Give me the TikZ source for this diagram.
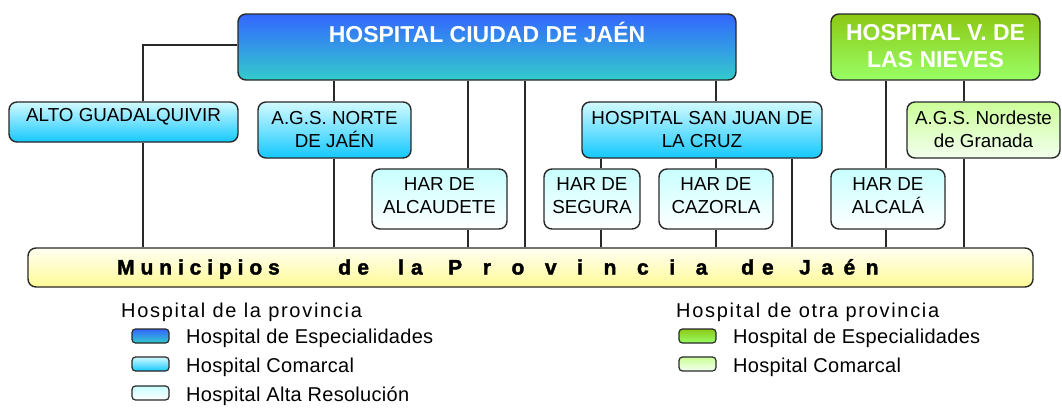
\documentclass[tikz,border=0pt]{standalone}
\usepackage{fontspec}
\setmainfont{Liberation Sans}
\usetikzlibrary{backgrounds}
\definecolor{espTop}{RGB}{51,102,255}
\definecolor{espBot}{RGB}{51,204,204}
\definecolor{comTop}{RGB}{210,250,255}
\definecolor{comBot}{RGB}{20,200,255}
\definecolor{harTop}{RGB}{200,255,255}
\definecolor{harBot}{RGB}{255,255,255}
\definecolor{gesTop}{RGB}{140,200,20}
\definecolor{gesBot}{RGB}{153,255,102}
\definecolor{gcoTop}{RGB}{204,255,153}
\definecolor{gcoBot}{RGB}{242,255,238}
\definecolor{munTop}{RGB}{255,255,242}
\definecolor{munBot}{RGB}{255,250,150}
\definecolor{edge}{RGB}{40,40,40}
\newcommand{\spw}[3]{\rlap{\hspace*{#1pt}\addfontfeature{LetterSpace=#2}#3}}
\begin{document}
\begin{tikzpicture}[x=1pt,y=-1pt,
  hbox/.style={draw=edge, line width=1.4pt, rounded corners=8pt, inner sep=0pt},
  esp/.style={hbox, top color=espTop, bottom color=espBot},
  com/.style={hbox, top color=comTop, bottom color=comBot},
  har/.style={hbox, top color=harTop, bottom color=harBot},
  ges/.style={hbox, top color=gesTop, bottom color=gesBot},
  gco/.style={hbox, top color=gcoTop, bottom color=gcoBot},
  mun/.style={hbox, top color=munTop, bottom color=munBot},
  swatch/.style={minimum width=37pt, minimum height=14pt, rounded corners=3.5pt, line width=1.2pt},
  big/.style={font=\fontsize{23}{27}\selectfont\bfseries, text=white, align=center, inner sep=0pt},
  lbl/.style={font=\fontsize{18.8}{23}\selectfont, align=center, inner sep=0pt},
  leg/.style={font=\fontsize{20}{22}\selectfont\addfontfeature{LetterSpace=1.5}, anchor=base west, inner sep=0pt},
  legtitle/.style={font=\fontsize{20}{22}\selectfont\addfontfeature{LetterSpace=8.5}, anchor=base west, inner sep=0pt},
  link/.style={draw=edge, line width=1.2pt},
]
\useasboundingbox (0,0) rectangle (1062,407);

% top-level hospitals
\node[esp, minimum width=498pt, minimum height=66pt] (ciudad) at (487,47) {};
\node[big] (ciudadT) at (487,32) {HOSPITAL CIUDAD DE JAÉN};
\node[ges, minimum width=209pt, minimum height=66pt] (nieves) at (935.5,47) {};
\node[big] (nievesT) at (935.5,46.5) {HOSPITAL V. DE\\LAS NIEVES};

% comarcal level
\node[com, minimum width=229pt, minimum height=40pt] (alto) at (123.5,122) {};
\node[lbl] (altoT) at (123.5,116.5) {ALTO GUADALQUIVIR};
\node[com, minimum width=153pt, minimum height=56pt] (norte) at (334.5,130) {};
\node[lbl] (norteT) at (334.5,129.5) {A.G.S. NORTE\\DE JAÉN};
\node[com, minimum width=240pt, minimum height=56pt] (sanjuan) at (702,130) {};
\node[lbl] (sanjuanT) at (702,129.5) {HOSPITAL SAN JUAN DE\\LA CRUZ};
\node[gco, minimum width=153pt, minimum height=56pt] (nordeste) at (983.5,130) {};
\node[lbl] (nordesteT) at (983.5,129.5) {A.G.S. Nordeste\\de Granada};

% HAR level
\node[har, minimum width=135pt, minimum height=60pt] (alcaudete) at (439.5,199) {};
\node[lbl] (alcaudeteT) at (439.5,196) {HAR DE\\ALCAUDETE};
\node[har, minimum width=96pt, minimum height=60pt] (segura) at (592,199) {};
\node[lbl] (seguraT) at (592,196) {HAR DE\\SEGURA};
\node[har, minimum width=114pt, minimum height=60pt] (cazorla) at (716,199) {};
\node[lbl] (cazorlaT) at (716,196) {HAR DE\\CAZORLA};
\node[har, minimum width=114pt, minimum height=60pt] (alcala) at (888,199) {};
\node[lbl] (alcalaT) at (888,196) {HAR DE\\ALCALÁ};

% municipios bar
\node[mun, minimum width=1005pt, minimum height=39pt] (mun) at (530.5,267.5) {};
\node[anchor=base west, inner sep=0pt, font=\fontsize{21}{23}\selectfont\bfseries\addfontfeature{FakeBold=1.8}] (munT) at (117,274.5)
 {\spw{0}{28}{Municipios}\spw{221}{30}{de}\spw{281}{33}{la}\spw{331}{98}{Provincia}\spw{624}{38}{de}\spw{682}{50}{Jaén}\hspace*{763pt}};

% connector columns
\coordinate (c143) at (143,0);
\coordinate (c334) at (334,0);
\coordinate (c468) at (468,0);
\coordinate (c525) at (525,0);
\coordinate (c601) at (601,0);
\coordinate (c716) at (716,0);
\coordinate (c792) at (792,0);
\coordinate (c886) at (886,0);
\coordinate (c964) at (964,0);
\coordinate (r45) at (0,45);

\begin{scope}[on background layer]
\draw[link] (ciudad.west |- r45) -| (alto.north -| c143);
\draw[link] (alto.south -| c143) -- (mun.north -| c143);
\draw[link] (ciudad.south -| c334) -- (norte.north -| c334);
\draw[link] (norte.south -| c334) -- (mun.north -| c334);
\draw[link] (ciudad.south -| c468) -- (alcaudete.north -| c468);
\draw[link] (alcaudete.south -| c468) -- (mun.north -| c468);
\draw[link] (ciudad.south -| c525) -- (mun.north -| c525);
\draw[link] (ciudad.south -| c716) -- (sanjuan.north -| c716);
\draw[link] (sanjuan.south -| c601) -- (segura.north -| c601);
\draw[link] (segura.south -| c601) -- (mun.north -| c601);
\draw[link] (sanjuan.south -| c716) -- (cazorla.north -| c716);
\draw[link] (cazorla.south -| c716) -- (mun.north -| c716);
\draw[link] (sanjuan.south -| c792) -- (mun.north -| c792);
\draw[link] (nieves.south -| c886) -- (alcala.north -| c886);
\draw[link] (alcala.south -| c886) -- (mun.north -| c886);
\draw[link] (nieves.south -| c964) -- (nordeste.north -| c964);
\draw[link] (nordeste.south -| c964) -- (mun.north -| c964);
\end{scope}

% legend
\node[legtitle] (legA) at (121,317) {Hospital de la provincia};
\node[esp, swatch] (s1) at (150.5,336) {};
\node[leg] (s1T) at (186,343) {Hospital de Especialidades};
\node[com, swatch] (s2) at (150.5,364) {};
\node[leg] (s2T) at (186,372) {Hospital Comarcal};
\node[har, swatch] (s3) at (150.5,393) {};
\node[leg] (s3T) at (186,401) {Hospital Alta Resolución};
\node[legtitle] (legB) at (676,317) {Hospital de otra provincia};
\node[ges, swatch] (s4) at (697.5,336) {};
\node[leg] (s4T) at (733,343) {Hospital de Especialidades};
\node[gco, swatch] (s5) at (697.5,364) {};
\node[leg] (s5T) at (733,372) {Hospital Comarcal};
\end{tikzpicture}
\end{document}
